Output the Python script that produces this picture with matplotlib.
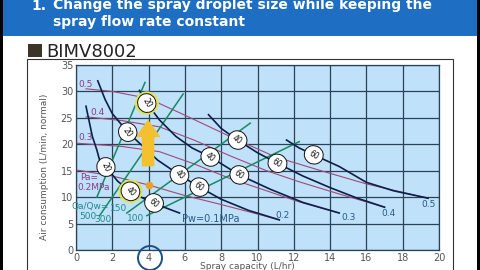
import matplotlib
matplotlib.use('Agg')
import matplotlib.pyplot as plt
from matplotlib.patches import Rectangle, Ellipse

# ---------------- data ----------------
x_ticks = [0, 2, 4, 6, 8, 10, 12, 14, 16, 18, 20]
y_ticks = [0, 5, 10, 15, 20, 25, 30, 35]

# Pa (air pressure) lines
pa05_x = [0.55, 2.0, 3.5, 4.1, 6.0, 8.9, 11.0, 13.4, 16.0, 19.4]
pa05_y = [30.5, 30.0, 29.0, 28.5, 25.5, 20.8, 17.6, 15.1, 12.5, 9.8]
pa04_x = [0.55, 2.5, 4.6, 6.5, 8.5, 10.5, 12.3, 14.5, 17.0]
pa04_y = [25.2, 24.5, 23.3, 20.8, 17.8, 15.0, 12.9, 10.6, 8.1]
pa03_x = [0.05, 2.5, 4.6, 6.5, 8.5, 10.5, 12.3, 14.5]
pa03_y = [20.2, 19.6, 18.6, 16.3, 13.5, 11.2, 9.1, 7.0]
pa02_x = [0.1, 2.0, 4.0, 6.0, 8.0, 10.0, 11.2]
pa02_y = [15.1, 14.0, 12.3, 10.3, 8.6, 6.8, 5.7]

# Pw (water pressure) curves
pw01_x = [0.55, 0.9, 1.15, 1.3, 1.65, 2.3, 3.0, 3.7, 4.3, 5.0, 5.7]
pw01_y = [27.2, 21.5, 18.9, 17.0, 15.7, 13.0, 11.1, 9.8, 8.9, 7.9, 7.0]
pw02_x = [1.2, 1.6, 2.0, 2.85, 3.5, 4.5, 5.7, 6.8, 8.0, 9.5, 11.2]
pw02_y = [32.0, 28.5, 25.8, 22.3, 20.2, 17.0, 14.2, 11.9, 9.6, 7.5, 5.7]
pw03_x = [3.5, 3.9, 4.6, 5.5, 6.4, 7.4, 9.0, 10.7, 12.5, 14.5]
pw03_y = [30.2, 27.8, 24.6, 21.5, 19.3, 17.6, 14.2, 11.5, 9.0, 7.0]
pw04_x = [7.3, 8.0, 8.9, 10.0, 11.1, 12.5, 14.0, 15.5, 17.0]
pw04_y = [25.6, 23.0, 20.8, 18.4, 16.4, 14.0, 11.8, 9.8, 8.1]
pw05_x = [11.6, 12.3, 13.1, 14.5, 16.0, 17.5, 19.4]
pw05_y = [20.8, 19.3, 18.0, 15.8, 12.8, 11.2, 9.8]

# Qa/Qw ratio lines
q500_x = [1.15, 3.8]
q500_y = [10.0, 31.7]
q300_x = [1.3, 5.9]
q300_y = [6.5, 29.5]
q150_x = [2.8, 9.6]
q150_y = [7.0, 24.0]
q100_x = [3.9, 12.3]
q100_y = [6.5, 20.5]

# droplet size markers
drop_x = [3.9, 2.85, 1.65, 3.0, 4.3, 5.7, 6.8, 7.4, 9.0, 8.9, 11.1, 13.1]
drop_y = [27.8, 22.3, 15.7, 11.1, 8.9, 14.2, 11.9, 17.6, 14.2, 20.8, 16.4, 18.0]
drop_t = ['20', '20', '20', '40', '60', '40', '60', '40', '60', '40', '60', '60']
drop_r = [-60, -55, -65, -45, -40, -45, -35, -40, -35, -35, -30, -30]

# ---------------- colors ----------------
BG = '#bfe1f9'
GRID = '#2a4257'
NAVY = '#0d1f4a'
PINK = '#a04a7a'
GREEN = '#168a60'
TEAL = '#1f8a8a'
PURP = '#8a3c8a'
BLUEL = '#2a5a8a'

fig = plt.figure(figsize=(4.8, 2.7), dpi=100)
fig.patch.set_facecolor('white')

# decorations
fig.add_artist(Rectangle((3 / 480, 1 - 36 / 270), 474 / 480, 36 / 270,
                         transform=fig.transFigure, fc='#1e6ec3', ec='none'))
fig.add_artist(Rectangle((0, 0), 3 / 480, 1, transform=fig.transFigure,
                         fc='black', ec='none'))
fig.add_artist(Rectangle((477 / 480, 0), 3 / 480, 1, transform=fig.transFigure,
                         fc='black', ec='none'))
fig.add_artist(Rectangle((27 / 480, -0.05), 426 / 480, 1 - 59 / 270 + 0.05,
                         transform=fig.transFigure, fc='none', ec='#333333', lw=0.8))
fig.text(31 / 480, 1 - 9.5 / 270, '1.', color='white', fontsize=10,
         fontweight='bold', va='baseline', ha='left')
fig.text(53 / 480, 1 - 9.5 / 270, 'Change the spray droplet size while keeping the',
         color='white', fontsize=10, fontweight='bold', va='baseline', ha='left')
fig.text(53 / 480, 1 - 26 / 270, 'spray flow rate constant',
         color='white', fontsize=10, fontweight='bold', va='baseline', ha='left')
fig.add_artist(Rectangle((28 / 480, 1 - 57 / 270), 14 / 480, 13 / 270,
                         transform=fig.transFigure, fc='#3d3428', ec='none'))
fig.text(46 / 480, 1 - 57 / 270, 'BIMV8002', color='#222222', fontsize=13,
         va='baseline', ha='left')

ax = fig.add_axes([76 / 480, 1 - 250 / 270, 363 / 480, 185 / 270])
ax.set_facecolor(BG)
ax.set_xlim(0, 20)
ax.set_ylim(0, 35)
ax.set_xticks(x_ticks)
ax.set_yticks(y_ticks)
ax.grid(True, color=GRID, lw=0.9)
ax.set_axisbelow(True)
for s in ax.spines.values():
    s.set_color(GRID)
    s.set_linewidth(0.9)
ax.tick_params(length=0, labelsize=7, colors='#555555', pad=2)

# Pa lines
for xs, ys in [(pa05_x, pa05_y), (pa04_x, pa04_y), (pa03_x, pa03_y), (pa02_x, pa02_y)]:
    ax.plot(xs, ys, color=PINK, lw=0.8, zorder=2)
# Qa/Qw lines
for xs, ys in [(q500_x, q500_y), (q300_x, q300_y), (q150_x, q150_y), (q100_x, q100_y)]:
    ax.plot(xs, ys, color=GREEN, lw=1.1, zorder=3)
# Pw curves
for xs, ys in [(pw01_x, pw01_y), (pw02_x, pw02_y), (pw03_x, pw03_y),
               (pw04_x, pw04_y), (pw05_x, pw05_y)]:
    ax.plot(xs, ys, color=NAVY, lw=1.2, zorder=4)

# arrow and highlights
ax.annotate('', xy=(3.97, 25.2), xytext=(3.97, 15.3),
            arrowprops=dict(arrowstyle='simple,head_length=1.4,head_width=2,tail_width=1',
                            mutation_scale=9, fc='#f5c030', ec='none'), zorder=5)
ax.plot([4.0], [12.3], 'o', color='#f0a020', ms=4.5, zorder=5)
for i in [0, 3]:
    ax.add_patch(Ellipse((drop_x[i], drop_y[i]), 1.2, 4.0, fc='#eef6c8', ec='#e2e25a',
                         lw=1.6, zorder=5))

for x, y, t, r in zip(drop_x, drop_y, drop_t, drop_r):
    ax.text(x, y, t, rotation=r, fontsize=5.5, color='#111111', ha='center', va='center',
            rotation_mode='anchor', zorder=7,
            bbox=dict(boxstyle='ellipse,pad=0.25', fc='white', ec='#111111', lw=0.7))

# Pa labels
ax.text(0.15, 31.4, '0.5', color=PURP, fontsize=6.5, va='center')
ax.text(0.8, 26.1, '0.4', color=PURP, fontsize=6.5, va='center')
ax.text(0.15, 21.2, '0.3', color=PURP, fontsize=6.5, va='center')
ax.text(0.2, 13.8, 'Pa=', color=PURP, fontsize=6.5, va='center')
ax.text(0.05, 11.9, '0.2MPa', color=PURP, fontsize=6.5, va='center')
# Pw labels
ax.text(5.85, 5.9, 'Pw=0.1MPa', color=BLUEL, fontsize=7, va='center')
ax.text(11.4, 6.6, '0.2', color=BLUEL, fontsize=6.5, va='center', ha='center')
ax.text(15.0, 6.2, '0.3', color=BLUEL, fontsize=6.5, va='center', ha='center')
ax.text(17.2, 7.0, '0.4', color=BLUEL, fontsize=6.5, va='center', ha='center')
ax.text(19.45, 8.7, '0.5', color=BLUEL, fontsize=6.5, va='center', ha='center')
# Qa/Qw labels
ax.text(-0.27, 8.3, 'Qa/Qw=', color=TEAL, fontsize=6.5, va='center', clip_on=False)
ax.text(0.63, 6.4, '500', color=TEAL, fontsize=6.5, va='center', ha='center')
ax.text(1.5, 5.7, '300', color=TEAL, fontsize=6.5, va='center', ha='center')
ax.text(2.37, 7.8, '150', color=TEAL, fontsize=6.5, va='center', ha='center')
ax.text(3.28, 5.9, '100', color=TEAL, fontsize=6.5, va='center', ha='center')

fig.text(247 / 480, 1 - 262 / 270, 'Spray capacity (L/hr)', color='#555555',
         fontsize=6.5, ha='center', va='top')
fig.text(45 / 480, 1 - 167 / 270, 'Air consumption (L/min, normal)', color='#555555',
         fontsize=6.5, ha='center', va='center', rotation=90)
fig.add_artist(Ellipse((150 / 480, 1 - 258 / 270), 24 / 480, 24 / 270,
                       transform=fig.transFigure, fill=False, ec='#1a4f8a', lw=1.4))

fig.savefig('out.png', dpi=100)
